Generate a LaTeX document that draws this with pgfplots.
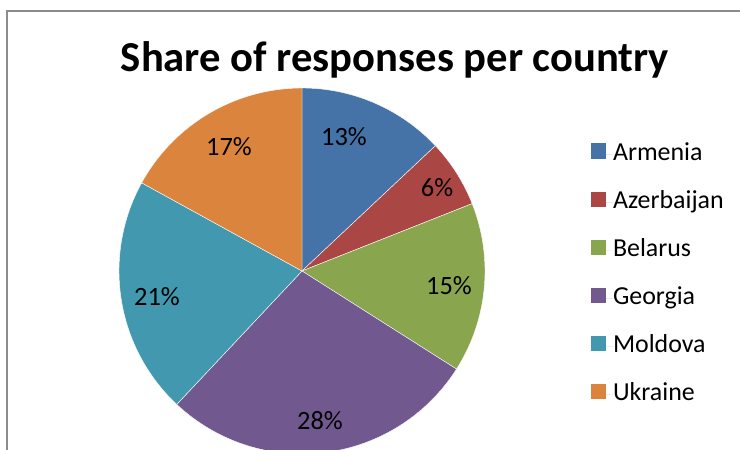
\documentclass[border=0pt]{standalone}
\usepackage{pgfplots}
\pgfplotsset{compat=1.18}
\usepackage{fontspec}
\setmainfont{Carlito}
\definecolor{cArm}{HTML}{4572A7}
\definecolor{cAze}{HTML}{AA4643}
\definecolor{cBel}{HTML}{89A54E}
\definecolor{cGeo}{HTML}{71588F}
\definecolor{cMol}{HTML}{4198AF}
\definecolor{cUkr}{HTML}{DB843D}
% shares in percent
\def\pArm{13}\def\pAze{6}\def\pBel{15}\def\pGeo{28}\def\pMol{21}\def\pUkr{17}
\pgfmathsetmacro{\aA}{90}
\pgfmathsetmacro{\aB}{\aA-3.6*\pArm}
\pgfmathsetmacro{\aC}{\aB-3.6*\pAze}
\pgfmathsetmacro{\aD}{\aC-3.6*\pBel}
\pgfmathsetmacro{\aE}{\aD-3.6*\pGeo}
\pgfmathsetmacro{\aF}{\aE-3.6*\pMol}
\pgfmathsetmacro{\aG}{\aF-3.6*\pUkr}
\def\cx{302}\def\cy{271}\def\R{183}
\begin{document}
\begin{tikzpicture}
\begin{axis}[
  hide axis, scale only axis,
  width=740bp, height=450bp,
  xmin=0, xmax=740, ymin=0, ymax=450, y dir=reverse,
  legend style={draw=none, fill=none, inner sep=0pt, outer sep=0pt,
    at={(axis cs:591,142)}, anchor=north west,
    font=\fontsize{26}{30}\selectfont, row sep=24bp,
    nodes={inner sep=0pt, text height=18bp, text depth=6bp}},
  legend cell align=left,
  legend image code/.code={\fill[#1, draw=none] (0bp,-4.5bp) rectangle (15bp,10.5bp); \path[draw=none] (0bp,0bp) -- (22bp,0bp);},
  every axis plot/.append style={draw=white, line width=0.4bp},
]
\addplot[fill=cArm, domain=\aB:\aA, samples=40] ({\cx+\R*cos(x)},{\cy-\R*sin(x)}) -- (axis cs:\cx,\cy) -- cycle;
\addlegendentry{Armenia}
\addplot[fill=cAze, domain=\aC:\aB, samples=20] ({\cx+\R*cos(x)},{\cy-\R*sin(x)}) -- (axis cs:\cx,\cy) -- cycle;
\addlegendentry{Azerbaijan}
\addplot[fill=cBel, domain=\aD:\aC, samples=40] ({\cx+\R*cos(x)},{\cy-\R*sin(x)}) -- (axis cs:\cx,\cy) -- cycle;
\addlegendentry{Belarus}
\addplot[fill=cGeo, domain=\aE:\aD, samples=60] ({\cx+\R*cos(x)},{\cy-\R*sin(x)}) -- (axis cs:\cx,\cy) -- cycle;
\addlegendentry{Georgia}
\addplot[fill=cMol, domain=\aF:\aE, samples=50] ({\cx+\R*cos(x)},{\cy-\R*sin(x)}) -- (axis cs:\cx,\cy) -- cycle;
\addlegendentry{Moldova}
\addplot[fill=cUkr, domain=\aG:\aF, samples=40] ({\cx+\R*cos(x)},{\cy-\R*sin(x)}) -- (axis cs:\cx,\cy) -- cycle;
\addlegendentry{Ukraine}
\begin{scope}[every node/.style={font=\fontsize{26.5}{30}\selectfont}]
\node at (axis cs:344,137) {13\%};
\node at (axis cs:437,188) {6\%};
\node at (axis cs:449,286) {15\%};
\node at (axis cs:320,421) {28\%};
\node at (axis cs:157,297) {21\%};
\node at (axis cs:229,147) {17\%};
\end{scope}
\node[font=\fontsize{42.8}{48}\selectfont\bfseries] at (axis cs:395,60) {Share of responses per country};
\draw[color=black!45, line width=2bp] (axis cs:7,450) -- (axis cs:7,11) -- (axis cs:740,11);
\end{axis}
\pgfresetboundingbox
\path[use as bounding box] (current axis.south west) rectangle (current axis.north east);
\end{tikzpicture}
\end{document}
